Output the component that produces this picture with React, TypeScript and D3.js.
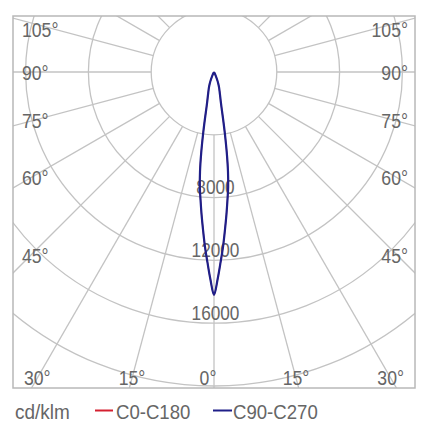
import React from "react";
import * as d3 from "d3";

// ---- data ----
const gammaAngles = [0, 1, 2, 3, 4, 5, 6, 7, 8, 9, 10, 11, 12, 13, 14, 15, 16, 18, 20, 22, 25, 30, 35, 90];
const c0c180 = [14200, 13200, 12100, 11100, 10050, 9100, 8200, 7400, 6400, 5200, 4000, 3000, 2300, 1900, 1650, 1450, 1300, 1050, 800, 550, 250, 50, 0, 0];
const c90c270 = [14200, 13200, 12100, 11100, 10050, 9100, 8200, 7400, 6400, 5200, 4000, 3000, 2300, 1900, 1650, 1450, 1300, 1050, 800, 550, 250, 50, 0, 0];
const ringValues = [4000, 8000, 12000, 16000, 20000];
const ringLabels = [8000, 12000, 16000];
const spokeAngles = d3.range(0, 181, 15);
const sideLabels = [105, 90, 75, 60, 45];
const bottomLabels = [-30, -15, 0, 15, 30];
const legendItems = ["C0-C180", "C90-C270"];
const unitLabel = "cd/klm";

// ---- layout ----
const W = 430, H = 430;
const frame = { x0: 13, y0: 16, x1: 415, y1: 388 };
const cx = 214, cy = 72;
const rScale = d3.scaleLinear().domain([0, 4000]).range([0, 62.8]);
const gridColor = "#c3c3c3";
const textColor = "#666666";
const blue = "#1f1f88";
const red = "#d42030";
const font = "'Liberation Sans', Arial, sans-serif";
const sideNudge: Record<number, number> = { 105: 12.5, 90: 7.5, 75: 8.5, 60: 10, 45: 13 };
const rad = (deg: number) => (deg * Math.PI) / 180;

function curvePoints(values: number[]) {
  const pts: { g: number; v: number }[] = [];
  for (let i = gammaAngles.length - 1; i >= 0; i--) {
    if (gammaAngles[i] > 40) continue;
    pts.push({ g: -gammaAngles[i], v: values[i] });
  }
  for (let i = 1; i < gammaAngles.length; i++) {
    if (gammaAngles[i] > 40) continue;
    pts.push({ g: gammaAngles[i], v: values[i] });
  }
  return pts;
}

const radial = d3
  .lineRadial<{ g: number; v: number }>()
  .angle((d) => Math.PI - rad(d.g))
  .radius((d) => rScale(d.v))
  .curve(d3.curveCatmullRom.alpha(0.5));

function T(props: { x: number; y: number; size: number; sx: number; anchor?: string; children: React.ReactNode }) {
  const { x, y, size, sx, anchor, children } = props;
  return (
    <text
      transform={`translate(${x},${y}) scale(${sx},1)`}
      fontFamily={font}
      fontSize={size}
      fill={textColor}
      textAnchor={anchor || "start"}
    >
      {children}
    </text>
  );
}

export default function App() {
  const inner = rScale(4000);
  const outer = rScale(40000);
  const spokes: { a: number }[] = [];
  spokeAngles.forEach((a) => {
    spokes.push({ a });
    if (a !== 0 && a !== 180) spokes.push({ a: -a });
  });
  const sideLabelY = (deg: number) => {
    const th = rad(deg);
    return cy + ((cx - 36) * Math.cos(th)) / Math.sin(th) + sideNudge[deg];
  };
  const bottomBase = 385;
  const bottomX = (deg: number) => cx + (bottomBase - 7 - cy) * Math.tan(rad(deg)) + (deg === 0 ? -6 : 0);
  const fs = 21;
  const sx = 0.84;

  return (
    <svg width={W} height={H} style={{ position: "absolute", left: 0, top: 0, background: "#fff" }}>
      <defs>
        <clipPath id="frameClip">
          <rect x={frame.x0} y={frame.y0} width={frame.x1 - frame.x0} height={frame.y1 - frame.y0} />
        </clipPath>
      </defs>
      <g clipPath="url(#frameClip)">
        {ringValues.map((v) => (
          <circle key={v} cx={cx} cy={cy} r={rScale(v)} fill="none" stroke={gridColor} strokeWidth={1.3} />
        ))}
        {spokes.map(({ a }) => (
          <line
            key={a}
            x1={cx + inner * Math.sin(rad(a))}
            y1={cy + inner * Math.cos(rad(a))}
            x2={cx + outer * Math.sin(rad(a))}
            y2={cy + outer * Math.cos(rad(a))}
            stroke={gridColor}
            strokeWidth={1.3}
          />
        ))}
      </g>
      <rect
        x={frame.x0}
        y={frame.y0}
        width={frame.x1 - frame.x0}
        height={frame.y1 - frame.y0}
        fill="none"
        stroke="#b8b8b8"
        strokeWidth={1.5}
      />
      {sideLabels.map((deg) => (
        <g key={deg}>
          <T x={22} y={sideLabelY(deg)} size={fs} sx={sx}>
            {deg}°
          </T>
          <T x={408} y={sideLabelY(deg)} size={fs} sx={sx} anchor="end">
            {deg}°
          </T>
        </g>
      ))}
      {bottomLabels.map((deg) => (
        <T key={deg} x={bottomX(deg)} y={bottomBase} size={fs} sx={sx} anchor="middle">
          {Math.abs(deg)}°
        </T>
      ))}
      {ringLabels.map((v) => (
        <T key={v} x={cx + 1.5} y={cy + rScale(v) - 3.5} size={20.5} sx={sx} anchor="middle">
          {v}
        </T>
      ))}
      <g transform={`translate(${cx},${cy})`}>
        <path d={radial(curvePoints(c0c180)) || ""} fill="none" stroke={red} strokeWidth={1.2} />
        <path d={radial(curvePoints(c90c270)) || ""} fill="none" stroke={blue} strokeWidth={2.2} />
      </g>
      <T x={15} y={419} size={20} sx={0.95}>
        {unitLabel}
      </T>
      <line x1={95} x2={113} y1={410.5} y2={410.5} stroke={red} strokeWidth={2} />
      <T x={116} y={419} size={20} sx={0.93}>
        {legendItems[0]}
      </T>
      <line x1={213} x2={232} y1={410.5} y2={410.5} stroke={blue} strokeWidth={2} />
      <T x={233} y={419} size={20} sx={0.93}>
        {legendItems[1]}
      </T>
    </svg>
  );
}
